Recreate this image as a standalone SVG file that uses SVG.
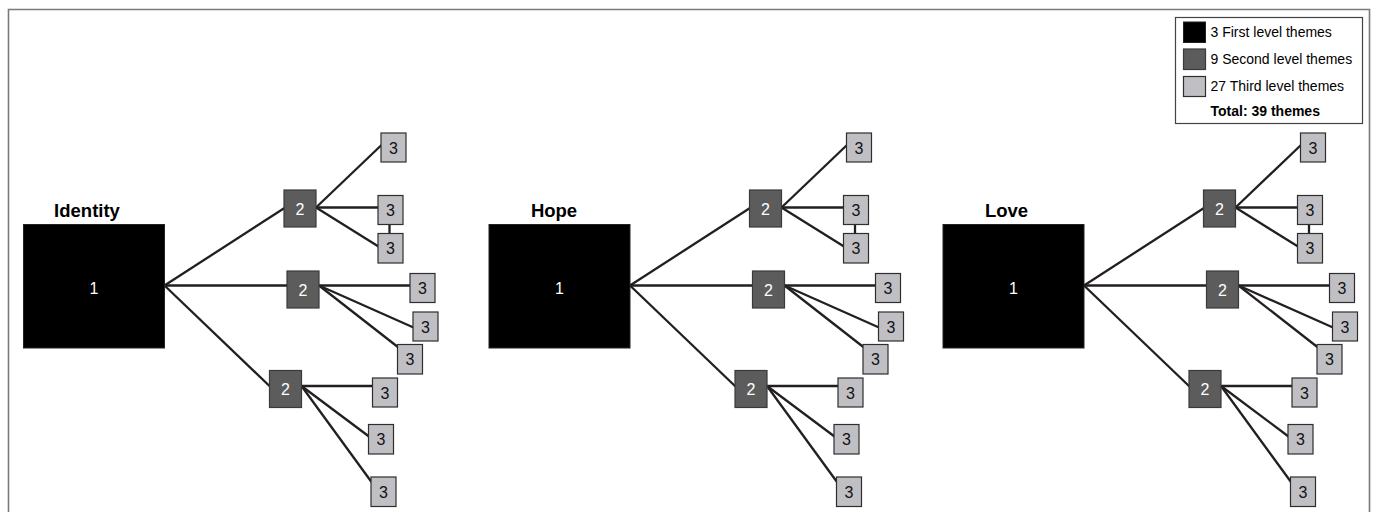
<svg xmlns="http://www.w3.org/2000/svg" width="1375" height="512" viewBox="0 0 1375 512">
<style>
text{font-family:"Liberation Sans",Arial,sans-serif;}
.l1{fill:#000;stroke:#222;stroke-width:1}
.l2{fill:#5c5c5c;stroke:#3a3a3a;stroke-width:1.2}
.l3{fill:#c0c0c4;stroke:#2e2e2e;stroke-width:1.2}
.t1{fill:#fff;font-size:16px;text-anchor:middle}
.t2{fill:#fff;font-size:16px;text-anchor:middle}
.t3{fill:#111;font-size:16px;text-anchor:middle}
.lab{fill:#000;font-size:18.5px;font-weight:bold;text-anchor:middle}
.cn line{stroke:#231f20;stroke-width:2.3}
.lg{fill:#000;font-size:14px}
</style>
<defs>
<g id="lines" class="cn">
<line x1="164.5" y1="285.5" x2="284.5" y2="208"/>
<line x1="164.5" y1="285.5" x2="287.5" y2="285.5"/>
<line x1="164.5" y1="285.5" x2="270" y2="386.5"/>
<line x1="316" y1="207.5" x2="381.5" y2="145"/>
<line x1="316" y1="207.5" x2="378.5" y2="207.5"/>
<line x1="316" y1="207.5" x2="378.5" y2="246.5"/>
<line x1="389.5" y1="224.5" x2="389.5" y2="233.5"/>
<line x1="319" y1="285.5" x2="410.5" y2="285.5"/>
<line x1="319" y1="285.5" x2="413.5" y2="327.5"/>
<line x1="319" y1="285.5" x2="398.5" y2="347.5"/>
<line x1="301.5" y1="386" x2="373" y2="386"/>
<line x1="301.5" y1="386" x2="369" y2="436.5"/>
<line x1="301.5" y1="386" x2="371.5" y2="482"/>
</g>
<g id="nodes">
<rect class="l1" x="23.5" y="224.5" width="141" height="123.5"/>
<text class="t1" x="94" y="293.5">1</text>
<rect class="l2" x="284" y="190" width="32" height="37"/><text class="t2" x="300" y="214.5">2</text>
<rect class="l2" x="287" y="271" width="32" height="37"/><text class="t2" x="303" y="295.5">2</text>
<rect class="l2" x="269.5" y="370.5" width="32" height="37"/><text class="t2" x="285.5" y="395">2</text>
<rect class="l3" x="381" y="133" width="25" height="29"/><text class="t3" x="393.5" y="153.5">3</text>
<rect class="l3" x="378" y="195.5" width="25" height="29"/><text class="t3" x="390.5" y="216">3</text>
<rect class="l3" x="378" y="233.5" width="25" height="29.5"/><text class="t3" x="390.5" y="254">3</text>
<rect class="l3" x="410" y="273.5" width="25" height="29"/><text class="t3" x="422.5" y="294">3</text>
<rect class="l3" x="413" y="312" width="25" height="29"/><text class="t3" x="425.5" y="332.5">3</text>
<rect class="l3" x="397.5" y="344.5" width="25" height="29.5"/><text class="t3" x="410" y="365">3</text>
<rect class="l3" x="372.5" y="378" width="25" height="29"/><text class="t3" x="385" y="398.5">3</text>
<rect class="l3" x="368.5" y="424.5" width="25" height="29.5"/><text class="t3" x="381" y="445">3</text>
<rect class="l3" x="371" y="477" width="25" height="29.5"/><text class="t3" x="383.5" y="497.5">3</text>
</g>
</defs>
<rect x="0" y="0" width="1375" height="512" fill="#fff"/>
<path d="M8.5 520 V9.5 H1369.5 V520" fill="none" stroke="#7a7a7a" stroke-width="1.6"/>
<g id="connectors">
<use href="#lines"/>
<use href="#lines" transform="translate(465.5,0)"/>
<use href="#lines" transform="translate(919.5,0)"/>
</g>
<g id="identity">
<text class="lab" x="87" y="217">Identity</text>
<use href="#nodes"/>
</g>
<g id="hope" transform="translate(465.5,0)">
<text class="lab" x="88.5" y="217">Hope</text>
<use href="#nodes"/>
</g>
<g id="love" transform="translate(919.5,0)">
<text class="lab" x="87" y="217">Love</text>
<use href="#nodes"/>
</g>
<g id="legend">
<rect x="1175.5" y="17.5" width="187" height="106" fill="#fff" stroke="#444" stroke-width="1.2"/>
<rect class="l1" x="1183.5" y="22" width="22" height="20.5"/>
<rect class="l2" x="1183.5" y="49" width="22" height="20.5"/>
<rect class="l3" x="1183.5" y="76.5" width="22" height="20"/>
<text class="lg" x="1210.5" y="37">3 First level themes</text>
<text class="lg" x="1210.5" y="64">9 Second level themes</text>
<text class="lg" x="1210.5" y="91">27 Third level themes</text>
<text class="lg" x="1210.5" y="116" font-weight="bold">Total: 39 themes</text>
</g>
</svg>
